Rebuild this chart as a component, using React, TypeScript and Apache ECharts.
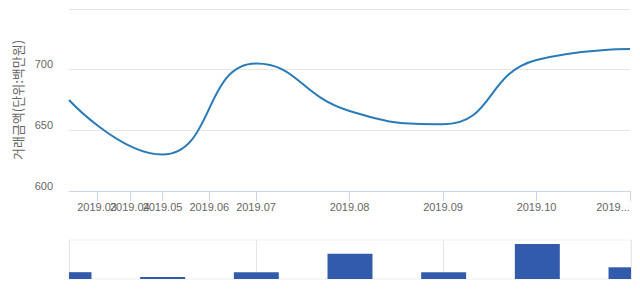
import React, { useEffect, useRef } from "react";
import * as echarts from "echarts";

// Line (price) data: x positions along the period axis and values
const lineX = [0, 1, 2, 3, 4, 5, 6];
const lineValues = [675, 630, 705, 666, 655, 708, 717];

// Top axis tick labels and their positions on the period axis
const tickPositions = [0.3, 0.65, 1, 1.5, 2, 3, 4, 5, 6];
const tickLabels = [
  "2019.03",
  "2019.04",
  "2019.05",
  "2019.06",
  "2019.07",
  "2019.08",
  "2019.09",
  "2019.10",
  "2019.11",
];

// Volume bars
const barCategories = ["2019.04", "2019.05", "2019.07", "2019.08", "2019.09", "2019.10", "2019.11"];
const barValues = [7, 2, 7, 26, 7, 36, 12];

const yTicks = [600, 650, 700, 750];

const LABEL_FONT = "Liberation Sans";

export default function App() {
  const ref = useRef<HTMLDivElement>(null);

  useEffect(() => {
    document.body.style.margin = "0";
    if (!ref.current) return;
    const chart = echarts.init(ref.current, null, { renderer: "svg" });

    const truncate = (text: string, w: number) => {
      const fmt: any = (echarts as any).format;
      if (fmt && typeof fmt.truncateText === "function") {
        try {
          return fmt.truncateText(text, w, `11px "${LABEL_FONT}"`, "...");
        } catch (e) {
          return text;
        }
      }
      return text;
    };

    const xMin = lineX[0];
    const xMax = lineX[lineX.length - 1];
    // a blank label at the axis start keeps ECharts' min/max-label overlap logic
    // from hiding the crowded first real labels
    const labelValues = [xMin, ...tickPositions];

    const option: any = {
      animation: false,
      grid: [
        { left: 69, right: 10, top: 9, height: 182, containLabel: false },
        {
          left: 69,
          right: 9,
          top: 240,
          height: 39,
          show: true,
          borderColor: "#f0f0f0",
          borderWidth: 1,
          backgroundColor: "transparent",
        },
      ],
      xAxis: [
        {
          type: "value",
          gridIndex: 0,
          min: xMin,
          max: xMax,
          axisLine: { show: true, lineStyle: { color: "#ccd6eb", width: 1 } },
          axisTick: {
            show: true,
            customValues: tickPositions,
            length: 10,
            lineStyle: { color: "#ccd6eb" },
          },
          axisLabel: {
            show: true,
            customValues: labelValues,
            showMaxLabel: true,
            hideOverlap: false,
            margin: 10,
            color: "#666666",
            fontSize: 11,
            fontFamily: LABEL_FONT,
            formatter: (v: number) => {
              if (Math.abs(v - xMin) < 1e-9) return " ";
              let idx = 0;
              let best = Infinity;
              tickPositions.forEach((p, i) => {
                const d = Math.abs(p - v);
                if (d < best) {
                  best = d;
                  idx = i;
                }
              });
              const label = tickLabels[idx];
              if (idx === tickLabels.length - 1) {
                return `{last|${truncate(label, 37)}}`;
              }
              return label;
            },
            rich: {
              last: {
                padding: [0, 34, 0, 0],
                color: "#666666",
                fontSize: 11,
                fontFamily: LABEL_FONT,
              },
            },
          },
          splitLine: { show: false },
        },
        {
          type: "category",
          gridIndex: 1,
          data: barCategories,
          boundaryGap: false,
          axisLine: { show: false },
          axisTick: { show: false },
          axisLabel: { show: false },
          splitLine: { show: true, interval: 1, lineStyle: { color: "#e6e6e6" } },
        },
      ],
      yAxis: [
        {
          type: "value",
          gridIndex: 0,
          min: yTicks[0],
          max: yTicks[yTicks.length - 1],
          interval: 50,
          name: "거래금액(단위:백만원)",
          nameLocation: "middle",
          nameGap: 35,
          nameTextStyle: {
            color: "#666666",
            fontSize: 13,
            fontFamily: "Noto Sans CJK KR",
          },
          axisLine: { show: false },
          axisTick: { show: false },
          axisLabel: {
            showMaxLabel: false,
            margin: 16,
            color: "#666666",
            fontSize: 11,
            fontFamily: LABEL_FONT,
            verticalAlign: "bottom",
          },
          splitLine: { show: true, lineStyle: { color: "#e6e6e6" } },
        },
        {
          type: "value",
          gridIndex: 1,
          min: 0,
          max: 40,
          axisLine: { show: false },
          axisTick: { show: false },
          axisLabel: { show: false },
          splitLine: { show: false },
        },
      ],
      series: [
        {
          type: "line",
          xAxisIndex: 0,
          yAxisIndex: 0,
          data: lineX.map((x, i) => [x, lineValues[i]]),
          smooth: true,
          symbol: "none",
          lineStyle: { color: "#2a7ab8", width: 2 },
          itemStyle: { color: "#2a7ab8" },
        },
        {
          type: "custom",
          xAxisIndex: 1,
          yAxisIndex: 1,
          data: barValues.map((v, i) => [i, v]),
          encode: { x: 0, y: 1 },
          renderItem: (params: any, api: any) => {
            const idx = api.value(0);
            const val = api.value(1);
            const top = api.coord([idx, val]);
            const base = api.coord([idx, 0]);
            const band = api.size([1, 0])[0];
            const w = band * 0.48;
            const shape = echarts.graphic.clipRectByRect(
              { x: top[0] - w / 2, y: top[1], width: w, height: base[1] - top[1] },
              {
                x: params.coordSys.x,
                y: params.coordSys.y,
                width: params.coordSys.width,
                height: params.coordSys.height,
              }
            );
            if (!shape) return null;
            return {
              type: "rect",
              shape,
              style: { fill: "#325cab" },
            };
          },
        },
      ],
    };

    chart.setOption(option);
    return () => {
      chart.dispose();
    };
  }, []);

  return <div ref={ref} style={{ width: 640, height: 294 }} />;
}
